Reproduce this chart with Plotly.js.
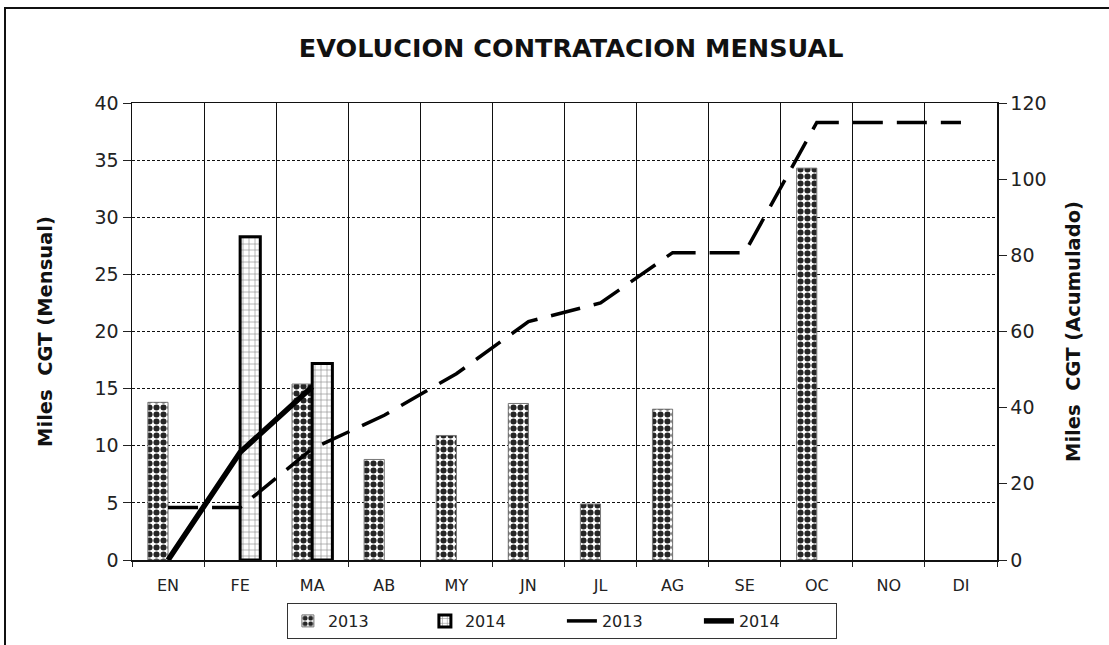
<!DOCTYPE html>
<html>
<head>
<meta charset="utf-8">
<script src="https://cdn.plot.ly/plotly-3.0.1.min.js"></script>
<style>
  html, body { margin: 0; padding: 0; background: #fff; }
  #wrap { position: relative; width: 1109px; height: 645px; overflow: hidden; }
  #chart { width: 1109px; height: 645px; }
  #frame { position: absolute; left: 4px; top: 7px; width: 1200px; height: 800px;
           border-left: 2px solid #111; border-top: 2px solid #111; pointer-events: none; }
</style>
</head>
<body>
<div id="wrap">
  <div id="chart"></div>
  <div id="frame"></div>
</div>
<script>
// ---- data ----
const months = ['EN','FE','MA','AB','MY','JN','JL','AG','SE','OC','NO','DI'];
const monthly2013 = [13.8, null, 15.4, 8.8, 10.9, 13.7, 4.9, 13.2, null, 34.3, null, null];
const monthly2014 = [null, 28.3, 17.2, null, null, null, null, null, null, null, null, null];
const cumul2013 = [13.8, 13.8, 29.2, 38.0, 48.9, 62.6, 67.5, 80.7, 80.7, 114.9, 114.9, 114.9];
const months2014 = ['EN','FE','MA'];
const cumul2014 = [0, 28.3, 45.5];
const seriesNames = ['2013', '2014', '2013', '2014'];
const leftTicks = [0,5,10,15,20,25,30,35,40];
const rightTicks = [0,20,40,60,80,100,120];

const FONT = 'DejaVu Sans, Liberation Sans, Arial, sans-serif';

const traces = [
  {
    type: 'bar', name: seriesNames[0], x: months, y: monthly2013,
    marker: {
      color: '#ffffff',
      line: { color: '#777', width: 1 },
      pattern: { shape: '.', fgcolor: '#262626', bgcolor: '#ffffff', size: 7, solidity: 0.6 }
    },
    hoverinfo: 'x+y'
  },
  {
    type: 'bar', name: seriesNames[1], x: months, y: monthly2014,
    marker: {
      color: '#ffffff',
      line: { color: '#000', width: 3 },
      pattern: { shape: '+', fgcolor: '#8a8a8a', bgcolor: '#ffffff', size: 6, solidity: 0.2 }
    },
    hoverinfo: 'x+y'
  },
  {
    type: 'scatter', mode: 'lines', name: seriesNames[2], x: months, y: cumul2013,
    yaxis: 'y2', line: { color: '#000', width: 3.5, dash: '30px,14px' }
  },
  {
    type: 'scatter', mode: 'lines', name: seriesNames[3], x: months2014, y: cumul2014,
    yaxis: 'y2', line: { color: '#000', width: 5.5 }
  }
];

const layout = {
  width: 1109, height: 645,
  paper_bgcolor: '#ffffff', plot_bgcolor: '#ffffff',
  margin: { l: 132, r: 112, t: 103, b: 85, autoexpand: false },
  font: { family: FONT, color: '#222' },
  title: {
    text: '<b>EVOLUCION CONTRATACION MENSUAL</b>',
    font: { family: FONT, size: 25.5, color: '#111' },
    xref: 'container', x: 0.515, xanchor: 'center',
    yref: 'container', y: 1 - 48/645, yanchor: 'middle'
  },
  barmode: 'group', bargap: 0.44, bargroupgap: 0,
  xaxis: {
    type: 'category', categoryorder: 'array', categoryarray: months,
    tickson: 'boundaries', ticks: 'outside', ticklen: 5, tickcolor: '#222',
    ticklabelstandoff: 10, automargin: false,
    showgrid: true, gridcolor: '#111', gridwidth: 1,
    showline: true, linecolor: '#111', linewidth: 1.5, mirror: true,
    tickfont: { family: FONT, size: 16, color: '#222' },
    fixedrange: true
  },
  yaxis: {
    range: [0, 40], tickvals: leftTicks, ticktext: leftTicks.map(String),
    ticks: 'outside', ticklen: 8, tickcolor: '#222',
    showgrid: true, gridcolor: '#111', gridwidth: 1, griddash: '3px,2px',
    zeroline: false,
    showline: true, linecolor: '#111', linewidth: 1.5,
    tickfont: { family: FONT, size: 19, color: '#222' },
    title: { text: '<b>Miles  CGT (Mensual)</b>', font: { family: FONT, size: 19.5, color: '#111' }, standoff: 36 },
    fixedrange: true
  },
  yaxis2: {
    range: [0, 120], tickvals: rightTicks, ticktext: rightTicks.map(String),
    overlaying: 'y', side: 'right',
    ticks: 'outside', ticklen: 8, tickcolor: '#222',
    showgrid: false, zeroline: false,
    showline: true, linecolor: '#111', linewidth: 1.5,
    tickfont: { family: FONT, size: 19, color: '#222' },
    title: { text: '<b>Miles  CGT (Acumulado)</b>', font: { family: FONT, size: 19.5, color: '#111' }, standoff: 21 },
    fixedrange: true
  },
  showlegend: true,
  legend: {
    orientation: 'h', xref: 'paper', x: 0.497, xanchor: 'center',
    yref: 'container', y: 1 - 603/645, yanchor: 'top',
    bordercolor: '#333', borderwidth: 1, bgcolor: '#fff',
    font: { family: FONT, size: 16, color: '#222' },
    entrywidth: 92, entrywidthmode: 'pixels',
    traceorder: 'normal'
  }
};

Plotly.newPlot('chart', traces, layout, { staticPlot: true, displayModeBar: false });
</script>
</body>
</html>
